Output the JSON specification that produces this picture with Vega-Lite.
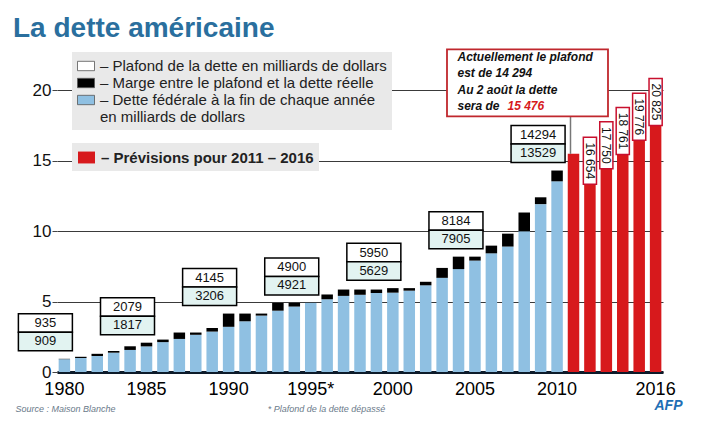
{
  "$schema": "https://vega.github.io/schema/vega-lite/v6.json",
  "width": 606,
  "height": 296,
  "autosize": {"type": "none"},
  "padding": {"left": 57, "top": 76, "right": 40, "bottom": 51},
  "background": "white",
  "title": {"text": "La dette américaine", "anchor": "start", "frame": "group", "dx": -44, "offset": -19, "baseline": "alphabetic", "fontSize": 28, "font": "Liberation Sans", "fontWeight": "bold", "color": "#2a6f9e"},
  "data": {"values": [
    {"year": 1980, "dette": 909, "plafond": 935},
    {"year": 1981, "dette": 995, "plafond": 1079},
    {"year": 1982, "dette": 1137, "plafond": 1290},
    {"year": 1983, "dette": 1372, "plafond": 1490},
    {"year": 1984, "dette": 1565, "plafond": 1824},
    {"year": 1985, "dette": 1817, "plafond": 2079},
    {"year": 1986, "dette": 2120, "plafond": 2300},
    {"year": 1987, "dette": 2346, "plafond": 2800},
    {"year": 1988, "dette": 2640, "plafond": 2800},
    {"year": 1989, "dette": 2868, "plafond": 3123},
    {"year": 1990, "dette": 3206, "plafond": 4145},
    {"year": 1991, "dette": 3598, "plafond": 4145},
    {"year": 1992, "dette": 4002, "plafond": 4145},
    {"year": 1993, "dette": 4351, "plafond": 4900},
    {"year": 1994, "dette": 4643, "plafond": 4900},
    {"year": 1995, "dette": 4921, "plafond": 4900},
    {"year": 1996, "dette": 5160, "plafond": 5500},
    {"year": 1997, "dette": 5400, "plafond": 5850},
    {"year": 1998, "dette": 5478, "plafond": 5850},
    {"year": 1999, "dette": 5606, "plafond": 5850},
    {"year": 2000, "dette": 5629, "plafond": 5950},
    {"year": 2001, "dette": 5770, "plafond": 5950},
    {"year": 2002, "dette": 6150, "plafond": 6400},
    {"year": 2003, "dette": 6680, "plafond": 7384},
    {"year": 2004, "dette": 7300, "plafond": 8184},
    {"year": 2005, "dette": 7905, "plafond": 8184},
    {"year": 2006, "dette": 8420, "plafond": 8965},
    {"year": 2007, "dette": 8900, "plafond": 9815},
    {"year": 2008, "dette": 9986, "plafond": 11315},
    {"year": 2009, "dette": 11910, "plafond": 12394},
    {"year": 2010, "dette": 13529, "plafond": 14294},
    {"year": 2011, "dette": 15476},
    {"year": 2012, "dette": 16654},
    {"year": 2013, "dette": 17750},
    {"year": 2014, "dette": 18761},
    {"year": 2015, "dette": 19776},
    {"year": 2016, "dette": 20825}
  ]},
  "encoding": {
    "x": {
      "field": "year", "type": "ordinal",
      "scale": {"type": "band", "paddingInner": 0.3, "paddingOuter": 0.1},
      "axis": {
        "values": [1980, 1985, 1990, 1995, 2000, 2005, 2010, 2016],
        "labelExpr": "datum.value == 1995 ? '1995*' : datum.label",
        "labelAngle": 0, "labelFontSize": 18, "labelColor": "#000", "labelPadding": 8,
        "ticks": false, "domainColor": "#0d1b2a", "domainWidth": 3,
        "title": "* Plafond de la dette dépassé", "titleX": 269, "titleY": 36,
        "titleFontSize": 9, "titleFontStyle": "italic", "titleFontWeight": "normal",
        "titleColor": "#6a7a8a", "titleAlign": "center", "titleBaseline": "middle"
      }
    }
  },
  "layer": [
    {
      "transform": [{"filter": "datum.year <= 2010"}],
      "encoding": {
        "y": {
          "field": "dette", "type": "quantitative",
          "scale": {"domain": [0, 21000], "nice": false, "zero": true},
          "axis": {
            "values": [0, 5000, 10000, 15000, 20000],
            "labelExpr": "datum.value / 1000",
            "labelFontSize": 17, "labelColor": "#111", "labelPadding": 1,
            "tickSize": 5, "tickColor": "#444", "domain": false,
            "grid": true, "gridColor": "#3a3a3a", "gridWidth": 1,
            "title": "Source : Maison Blanche", "titleAngle": 0, "titleX": -42, "titleY": 332,
            "titleAlign": "left", "titleBaseline": "middle", "titleFontSize": 9,
            "titleFontStyle": "italic", "titleFontWeight": "normal", "titleColor": "#6a7a8a"
          }
        }
      },
      "layer": [
        {
          "mark": {"type": "bar"},
          "encoding": {
            "fill": {
              "datum": "Dette fédérale à la fin de chaque année en milliards de dollars",
              "type": "nominal",
              "scale": {
                "domain": ["Plafond de la dette en milliards de dollars", "Marge entre le plafond et la dette réelle", "Dette fédérale à la fin de chaque année en milliards de dollars"],
                "range": ["#ffffff", "#000000", "#8fc0e2"]
              },
              "legend": {
                "orient": "none", "legendX": 15, "legendY": -24, "title": null, "direction": "vertical",
                "fillColor": "#e9e9e9", "padding": 5,
                "symbolType": "M-1,-0.55H1V0.55H-1Z", "symbolSize": 289,
                "symbolStrokeColor": "#555", "symbolStrokeWidth": 0.8,
                "labelFontSize": 15, "labelColor": "#222", "labelOffset": 5, "rowPadding": 0, "labelLimit": 400,
                "labelExpr": "datum.label == 'Dette fédérale à la fin de chaque année en milliards de dollars' ? ['– Dette fédérale à la fin de chaque année', '\u00a0\u00a0\u00a0en milliards de dollars'] : '– ' + datum.label"
              }
            }
          }
        },
        {
          "mark": {"type": "bar"},
          "encoding": {
            "y2": {"field": "plafond"},
            "fill": {"datum": "Marge entre le plafond et la dette réelle", "type": "nominal"}
          }
        }
      ]
    },
    {
      "transform": [{"filter": "datum.year >= 2011"}],
      "mark": {"type": "bar"},
      "encoding": {
        "y": {
          "field": "dette", "type": "quantitative",
          "axis": {
            "orient": "right", "labels": false, "ticks": false, "domain": false, "grid": false,
            "title": "AFP", "titleAngle": 0, "titleX": 5, "titleY": 329, "titleAlign": "center",
            "titleBaseline": "middle", "titleFontSize": 14, "titleFontStyle": "italic",
            "titleFontWeight": "bold", "titleColor": "#1f6fb5"
          }
        },
        "fill": {
          "datum": "Prévisions pour 2011 – 2016", "type": "nominal",
          "scale": {"range": ["#d7191c"]},
          "legend": {
            "orient": "none", "legendX": 15, "legendY": 67, "title": null,
            "fillColor": "#e9e9e9", "padding": 5,
            "symbolType": "M-1,-0.7H1V0.7H-1Z", "symbolSize": 289,
            "labelFontSize": 15, "labelFontWeight": "bold", "labelColor": "#222", "labelOffset": 5,
            "labelLimit": 400, "labelExpr": "'– ' + datum.label"
          }
        }
      }
    },
    {
      "transform": [{"filter": {"field": "year", "oneOf": [1980, 1985, 1990, 1995, 2000, 2005, 2010]}}],
      "encoding": {"y": {"field": "plafond", "type": "quantitative", "axis": null}},
      "layer": [
        {"mark": {"type": "point", "shape": "M-1,-0.685H1V0H-1Z", "size": 2916, "filled": true, "fill": "#ffffff", "stroke": "#000", "strokeWidth": 1.5, "opacity": 1, "xOffset": -19, "yOffset": -26.5}},
        {"mark": {"type": "point", "shape": "M-1,0H1V0.685H-1Z", "size": 2916, "filled": true, "fill": "#e2f3f1", "stroke": "#000", "strokeWidth": 1.5, "opacity": 1, "xOffset": -19, "yOffset": -26.5}},
        {"mark": {"type": "text", "xOffset": -19, "yOffset": -35.5, "fontSize": 13, "font": "Liberation Sans", "color": "#111", "baseline": "middle"},
         "encoding": {"text": {"field": "plafond", "type": "quantitative", "format": "d"}}},
        {"mark": {"type": "text", "xOffset": -19, "yOffset": -17.5, "fontSize": 13, "font": "Liberation Sans", "color": "#111", "baseline": "middle"},
         "encoding": {"text": {"field": "dette", "type": "quantitative", "format": "d"}}}
      ]
    },
    {
      "transform": [{"filter": "datum.year >= 2012"}],
      "encoding": {"y": {"field": "dette", "type": "quantitative", "axis": null}},
      "layer": [
        {"mark": {"type": "point", "shape": "M-0.28,0H0.28V2H-0.28Z", "size": 2209, "filled": true, "fill": "#ffffff", "stroke": "#c8102e", "strokeWidth": 1.5, "opacity": 1}},
        {"mark": {"type": "text", "angle": 90, "align": "center", "baseline": "middle", "yOffset": 23.5, "fontSize": 12, "font": "Liberation Sans", "color": "#111"},
         "encoding": {"text": {"field": "dette", "type": "quantitative", "format": ",d"}}}
      ]
    },
    {
      "transform": [{"filter": "datum.year == 2011"}],
      "encoding": {"y": {"field": "dette", "type": "quantitative", "axis": null}},
      "layer": [
        {"mark": {"type": "point", "shape": "M0,0V-2", "size": 1444, "filled": false, "stroke": "#777", "strokeWidth": 1.5, "opacity": 1, "xOffset": -3}},
        {"mark": {"type": "point", "shape": "M-1,-0.416H1V0.416H-1Z", "size": 25921, "filled": true, "fill": "#ffffff", "stroke": "#c0272d", "strokeWidth": 1.8, "opacity": 1, "xOffset": -46, "yOffset": -71}},
        {"mark": {"type": "text", "align": "left", "baseline": "top", "xOffset": -116, "yOffset": -102, "fontSize": 12, "font": "Liberation Sans", "fontStyle": "italic", "fontWeight": "bold", "lineHeight": 16.5, "color": "#111",
                  "text": ["Actuellement le plafond", "est de 14 294", "Au 2 août la dette", "sera de"]},
         "encoding": {}},
        {"mark": {"type": "text", "align": "left", "baseline": "top", "xOffset": -66, "yOffset": -52.5, "fontSize": 12, "font": "Liberation Sans", "fontStyle": "italic", "fontWeight": "bold", "color": "#d7191c"},
         "encoding": {"text": {"field": "dette", "type": "quantitative", "format": ",d"}}}
      ]
    }
  ],
  "resolve": {"scale": {"fill": "independent"}, "axis": {"y": "independent"}},
  "config": {
    "view": {"stroke": null},
    "font": "Liberation Sans",
    "locale": {"number": {"decimal": ",", "thousands": " ", "grouping": [3], "currency": ["", " €"]}}
  }
}
